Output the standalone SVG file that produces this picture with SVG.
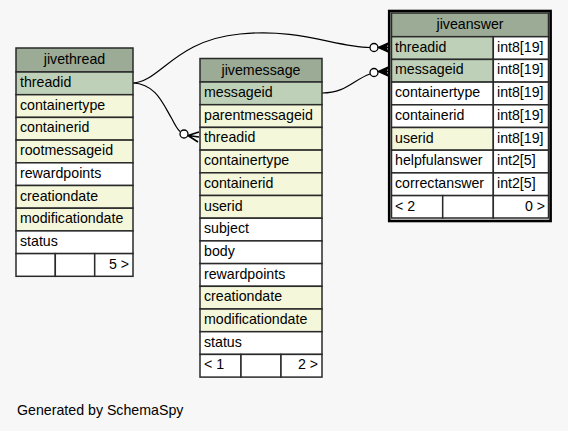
<svg xmlns="http://www.w3.org/2000/svg" width="568" height="431" viewBox="0 0 568 431">
<style>
text{font-family:"Liberation Sans",Arial,sans-serif;font-size:14.2px;fill:#000}
.c{stroke:#2a2a2a;stroke-width:1.5}
.h{fill:#9bab96}
.k{fill:#bed1b8}
.f{fill:#f4f7da}
.w{fill:#ffffff}
.m{text-anchor:middle}
.r{text-anchor:end}
.e{fill:none;stroke:#000;stroke-width:1.2}
.o{fill:#fff;stroke:#000;stroke-width:1.3}
.cf{fill:#000;stroke:#000;stroke-width:1.3;stroke-linejoin:round}
</style>
<rect width="568" height="431" fill="#f7f7f7"/>
<g id="connectors">
<path class="e" d="M133,83 C160,82 175,40 240,34 C300,28 335,47 370,47.5"/>
<circle class="o" cx="374" cy="47.5" r="4"/>
<path class="cf" d="M378,47.5 L388,43 L386,47.5 L388,52 Z M378,47.5 L388,47.5"/>
<path class="e" d="M133,83 C156,84 163,104 172,119 C175,125 177,129 180,131.5"/>
<circle class="o" cx="184" cy="134" r="4"/>
<path class="e" style="stroke-width:1.6" d="M188,135.5 L199,132 M188,135.5 L199,137 M188,135.5 L198,142"/>
<path class="e" d="M322,93 C346,93 353,80 370,74"/>
<circle class="o" cx="374" cy="72.5" r="4"/>
<path class="cf" d="M378,71.5 L388,67 L386,71.5 L388,76 Z M378,71.5 L388,71.5"/>
</g>
<g id="jivethread">
<rect class="c h" x="16" y="48" width="117" height="24"/>
<text class="m" x="74.5" y="64">jivethread</text>
<rect class="c k" x="16" y="72" width="117" height="22.7"/><text x="20" y="87">threadid</text>
<rect class="c f" x="16" y="94.7" width="117" height="22.7"/><text x="20" y="109.7">containertype</text>
<rect class="c f" x="16" y="117.4" width="117" height="22.7"/><text x="20" y="132.4">containerid</text>
<rect class="c f" x="16" y="140.1" width="117" height="22.7"/><text x="20" y="155.1">rootmessageid</text>
<rect class="c w" x="16" y="162.8" width="117" height="22.7"/><text x="20" y="177.8">rewardpoints</text>
<rect class="c f" x="16" y="185.5" width="117" height="22.7"/><text x="20" y="200.5">creationdate</text>
<rect class="c f" x="16" y="208.2" width="117" height="22.7"/><text x="20" y="223.2">modificationdate</text>
<rect class="c w" x="16" y="230.9" width="117" height="22.7"/><text x="20" y="245.9">status</text>
<rect class="c w" x="16" y="253.6" width="39.3" height="22.7"/>
<rect class="c w" x="55.3" y="253.6" width="39.4" height="22.7"/>
<rect class="c w" x="94.7" y="253.6" width="38.3" height="22.7"/><text class="r" x="129" y="268.6">5 &gt;</text>
</g>
<g id="jivemessage">
<rect class="c h" x="200" y="58.5" width="122" height="23.5"/>
<text class="m" x="261" y="74.5">jivemessage</text>
<rect class="c k" x="200" y="82" width="122" height="22.7"/><text x="204" y="97">messageid</text>
<rect class="c f" x="200" y="104.7" width="122" height="22.7"/><text x="204" y="119.7">parentmessageid</text>
<rect class="c f" x="200" y="127.4" width="122" height="22.7"/><text x="204" y="142.4">threadid</text>
<rect class="c f" x="200" y="150.1" width="122" height="22.7"/><text x="204" y="165.1">containertype</text>
<rect class="c f" x="200" y="172.8" width="122" height="22.7"/><text x="204" y="187.8">containerid</text>
<rect class="c f" x="200" y="195.5" width="122" height="22.7"/><text x="204" y="210.5">userid</text>
<rect class="c w" x="200" y="218.2" width="122" height="22.7"/><text x="204" y="233.2">subject</text>
<rect class="c w" x="200" y="240.9" width="122" height="22.7"/><text x="204" y="255.9">body</text>
<rect class="c w" x="200" y="263.6" width="122" height="22.7"/><text x="204" y="278.6">rewardpoints</text>
<rect class="c f" x="200" y="286.3" width="122" height="22.7"/><text x="204" y="301.3">creationdate</text>
<rect class="c f" x="200" y="309" width="122" height="22.7"/><text x="204" y="324">modificationdate</text>
<rect class="c w" x="200" y="331.7" width="122" height="22.7"/><text x="204" y="346.7">status</text>
<rect class="c w" x="200" y="354.4" width="41" height="22.7"/><text x="204" y="369.4">&lt; 1</text>
<rect class="c w" x="241" y="354.4" width="40" height="22.7"/>
<rect class="c w" x="281" y="354.4" width="41" height="22.7"/><text class="r" x="318" y="369.4">2 &gt;</text>
</g>
<g id="jiveanswer">
<rect x="389.2" y="11" width="161.4" height="210" fill="#f7f7f7" stroke="#000" stroke-width="2.6"/>
<rect class="c h" x="391.5" y="13" width="157" height="23.7"/>
<text class="m" x="470" y="29">jiveanswer</text>
<rect class="c k" x="391.5" y="36.7" width="101.8" height="22.7"/><text x="395" y="51.7">threadid</text>
<rect class="c w" x="493.3" y="36.7" width="55.2" height="22.7"/><text x="497" y="51.7">int8[19]</text>
<rect class="c k" x="391.5" y="59.4" width="101.8" height="22.7"/><text x="395" y="74.4">messageid</text>
<rect class="c w" x="493.3" y="59.4" width="55.2" height="22.7"/><text x="497" y="74.4">int8[19]</text>
<rect class="c w" x="391.5" y="82.1" width="101.8" height="22.7"/><text x="395" y="97.1">containertype</text>
<rect class="c w" x="493.3" y="82.1" width="55.2" height="22.7"/><text x="497" y="97.1">int8[19]</text>
<rect class="c w" x="391.5" y="104.8" width="101.8" height="22.7"/><text x="395" y="119.8">containerid</text>
<rect class="c w" x="493.3" y="104.8" width="55.2" height="22.7"/><text x="497" y="119.8">int8[19]</text>
<rect class="c f" x="391.5" y="127.5" width="101.8" height="22.7"/><text x="395" y="142.5">userid</text>
<rect class="c w" x="493.3" y="127.5" width="55.2" height="22.7"/><text x="497" y="142.5">int8[19]</text>
<rect class="c w" x="391.5" y="150.2" width="101.8" height="22.7"/><text x="395" y="165.2">helpfulanswer</text>
<rect class="c w" x="493.3" y="150.2" width="55.2" height="22.7"/><text x="497" y="165.2">int2[5]</text>
<rect class="c w" x="391.5" y="172.9" width="101.8" height="22.7"/><text x="395" y="187.9">correctanswer</text>
<rect class="c w" x="493.3" y="172.9" width="55.2" height="22.7"/><text x="497" y="187.9">int2[5]</text>
<rect class="c w" x="391.5" y="195.6" width="51.2" height="22.4"/><text x="395" y="210.6">&lt; 2</text>
<rect class="c w" x="442.7" y="195.6" width="50.6" height="22.4"/>
<rect class="c w" x="493.3" y="195.6" width="55.2" height="22.4"/><text class="r" x="545" y="210.6">0 &gt;</text>
</g>
<text x="17" y="415">Generated by SchemaSpy</text>
</svg>
